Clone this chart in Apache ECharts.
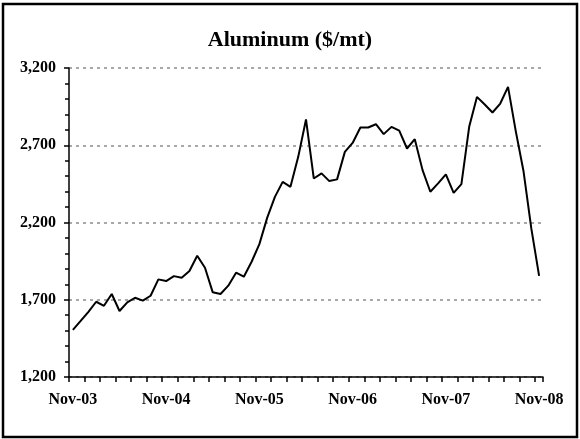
<!DOCTYPE html>
<html>
<head>
<meta charset="utf-8">
<script src="https://cdn.jsdelivr.net/npm/echarts@6/dist/echarts.min.js"></script>
<style>
  html, body { margin: 0; padding: 0; background: #fff; }
  #chart { width: 580px; height: 439px; }
</style>
</head>
<body>
<div id="chart"></div>
<script>
var dom = document.getElementById('chart');
var myChart = echarts.init(dom, null, { renderer: 'canvas' });

// monthly, Nov-03 .. Nov-08
const monthNames = ['Nov', 'Dec', 'Jan', 'Feb', 'Mar', 'Apr', 'May', 'Jun', 'Jul', 'Aug', 'Sep', 'Oct'];
const startYear = 3;
const prices = [
    1505, 1563, 1622, 1687, 1661, 1737, 1627, 1683, 1713, 1694, 1726, 1832,
    1821, 1853, 1842, 1886, 1985, 1907, 1748, 1737, 1791, 1875, 1849, 1946,
    2060, 2230, 2366, 2463, 2431, 2625, 2867, 2485, 2518, 2468, 2479, 2657,
    2715, 2815, 2815, 2836, 2772, 2819, 2795, 2679, 2739, 2539, 2399, 2453,
    2511, 2392, 2448, 2819, 3013, 2964, 2912, 2970, 3078, 2790, 2530, 2160,
    1855
];
const yTicks = [1200, 1700, 2200, 2700, 3200];

var categories = prices.map(function (v, i) {
    var m = monthNames[i % 12];
    // Jan onwards belongs to the next year
    var yr = startYear + Math.floor(i / 12) + ((i % 12) >= 2 ? 1 : 0);
    return m + '-' + (yr < 10 ? '0' + yr : '' + yr);
});

const labelFont = {
    color: '#000',
    fontFamily: 'Liberation Serif, serif',
    fontWeight: 'bold',
    fontSize: 16
};

var option = {
    animation: false,
    title: {
        text: 'Aluminum ($/mt)',
        left: 'center',
        top: 24,
        textStyle: {
            color: '#000',
            fontFamily: 'Liberation Serif, serif',
            fontWeight: 'bold',
            fontSize: 22
        }
    },
    graphic: [{
        type: 'rect',
        shape: { x: 3, y: 4, width: 574, height: 433 },
        style: { fill: 'none', stroke: '#000', lineWidth: 2.5 },
        silent: true
    }],
    grid: {
        left: 69,
        right: 37,
        top: 68,
        bottom: 62
    },
    xAxis: {
        type: 'category',
        data: categories,
        boundaryGap: true,
        axisLine: { show: true, lineStyle: { color: '#000', width: 1.5 } },
        axisTick: { show: true, interval: 1, length: 5, lineStyle: { color: '#000', width: 1.5 } },
        axisLabel: Object.assign({ interval: 11, margin: 15 }, labelFont),
        splitLine: { show: false }
    },
    yAxis: {
        type: 'value',
        min: yTicks[0],
        max: yTicks[yTicks.length - 1],
        interval: 500,
        axisLine: { show: true, lineStyle: { color: '#000', width: 1.5 } },
        axisTick: { show: true, length: 5, lineStyle: { color: '#000', width: 1.5 } },
        minorTick: { show: true, splitNumber: 5, length: 4, lineStyle: { color: '#000', width: 1.5 } },
        axisLabel: Object.assign({
            margin: 13,
            formatter: function (v) { return v.toLocaleString('en-US'); }
        }, labelFont),
        splitLine: {
            show: true,
            lineStyle: { color: '#8c8c8c', type: [3, 4], width: 1.5 }
        }
    },
    series: [{
        name: 'Aluminum',
        type: 'line',
        data: prices,
        symbol: 'none',
        lineStyle: { color: '#000', width: 2 },
        itemStyle: { color: '#000' }
    }]
};

myChart.setOption(option);
window.addEventListener('resize', myChart.resize);
</script>
</body>
</html>
